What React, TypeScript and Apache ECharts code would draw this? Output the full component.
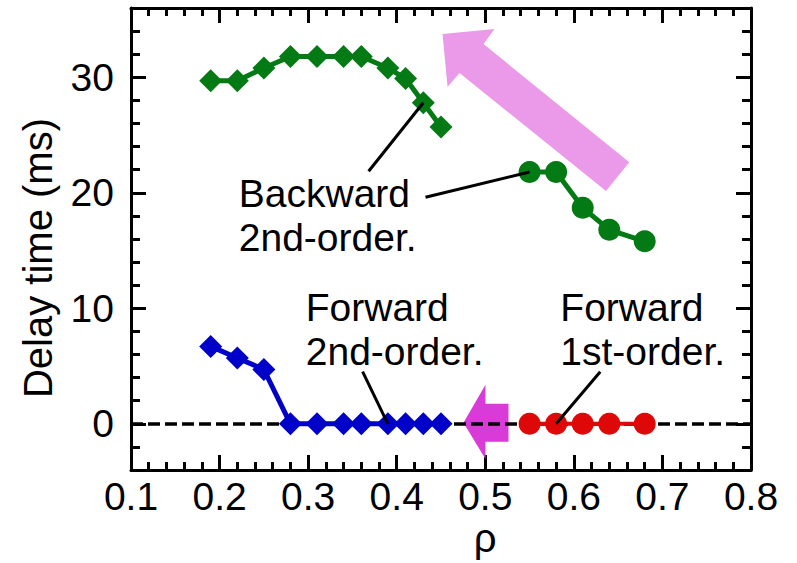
import React, { useEffect, useRef } from "react";
import * as echarts from "echarts";

// ρ values of the low-ρ sweep (diamonds) and the high-ρ sweep (circles)
const rhoLow = [0.19, 0.22, 0.25, 0.28, 0.31, 0.34, 0.36, 0.39, 0.41, 0.43, 0.45];
const rhoHigh = [0.55, 0.58, 0.61, 0.64, 0.68];

// Delay times (ms)
const backward2ndLow = [29.7, 29.7, 30.8, 31.8, 31.8, 31.8, 31.8, 30.8, 29.9, 27.8, 25.7];
const forward2ndLow = [6.7, 5.7, 4.7, 0, 0, 0, 0, 0, 0, 0, 0];
const backward2ndHigh = [21.8, 21.8, 18.7, 16.8, 15.8];
const forward1stHigh = [0, 0, 0, 0, 0];

// Axis ticks
const xMajorTicks = [0.1, 0.2, 0.3, 0.4, 0.5, 0.6, 0.7, 0.8];
const yMajorTicks = [0, 10, 20, 30];

// Arrow outlines in data coordinates (ρ, ms)
const backArrow = [
  [0.4517, 33.75], [0.5104, 34.19], [0.498, 32.88], [0.6626, 22.65],
  [0.6363, 20.16], [0.4709, 30.37], [0.4574, 29.15],
];
const forwardArrow = [
  [0.4754, 0.1], [0.5002, 3.38], [0.5002, 1.74], [0.5262, 1.74],
  [0.5262, -1.56], [0.5002, -1.56], [0.5002, -3.04],
];

// Annotation texts, their anchor (left edge, block middle) and leader start points
const labelTexts = ["Backward\n2nd-order.", "Forward\n2nd-order.", "Forward\n1st-order."];
const labelAnchors = [[0.2217, 18.05], [0.2973, 8.16], [0.5847, 8.16]];
const leaderStarts = [[0.3683, 21.87], [0.4325, 19.61], [0.3615, 4.51], [0.6298, 4.51]];

const FONT = '"Liberation Sans", Arial, Helvetica, sans-serif';
const GREEN = "#037A14";
const BLUE = "#0000C8";
const RED = "#DE0808";

function pairs(xs: number[], ys: number[]) {
  return xs.map((x, i) => [x, ys[i]]);
}

function arrowSeries(points: number[][], color: string, z: number) {
  return {
    type: "custom",
    xAxisIndex: 0,
    yAxisIndex: 0,
    z,
    silent: true,
    data: [points[0]],
    renderItem: (_params: any, api: any) => ({
      type: "polygon",
      shape: { points: points.map((p) => api.coord(p)) },
      style: { fill: color },
    }),
  };
}

export default function App() {
  const ref = useRef<HTMLDivElement>(null);

  useEffect(() => {
    if (!ref.current) return;
    const chart = echarts.init(ref.current, null, { renderer: "svg" });

    const leaders = [
      [...leaderStarts[0], rhoLow[9], backward2ndLow[9]],
      [...leaderStarts[1], rhoHigh[0], backward2ndHigh[0]],
      [...leaderStarts[2], rhoLow[7], forward2ndLow[7]],
      [...leaderStarts[3], rhoHigh[1], forward1stHigh[1]],
    ];

    const tickLine = { color: "#000", width: 3 };
    const frameLine = { show: true, onZero: false, lineStyle: { color: "#000", width: 3 } };
    const xBase = {
      type: "value",
      min: 0.1,
      max: 0.8,
      interval: 0.1,
      gridIndex: 0,
      splitLine: { show: false },
      axisLine: frameLine,
      axisTick: { show: true, inside: true, length: 15, lineStyle: tickLine },
      minorTick: { show: true, splitNumber: 5, length: 8, lineStyle: tickLine },
    };
    const yMajor = {
      type: "value",
      min: -4,
      max: 36,
      gridIndex: 0,
      splitLine: { show: false },
      axisLine: frameLine,
      axisTick: { show: true, inside: true, length: 15, lineStyle: tickLine, customValues: yMajorTicks },
    };
    const yMinor = {
      type: "value",
      min: -4,
      max: 36,
      interval: 2,
      gridIndex: 0,
      splitLine: { show: false },
      axisLine: { show: false, onZero: false },
      axisLabel: { show: false },
      axisTick: { show: true, inside: true, length: 9, lineStyle: tickLine },
    };

    chart.setOption({
      animation: false,
      backgroundColor: "#fff",
      grid: { left: 131, right: 46, top: 8, bottom: 93, containLabel: false },
      xAxis: [
        {
          ...xBase,
          position: "bottom",
          axisLabel: {
            show: true,
            color: "#000",
            fontSize: 39,
            fontFamily: FONT,
            margin: 7,
            customValues: xMajorTicks,
            formatter: (v: number) => v.toFixed(1),
          },
        },
        { ...xBase, position: "top", axisLabel: { show: false } },
      ],
      yAxis: [
        {
          ...yMajor,
          position: "left",
          axisLabel: {
            show: true,
            color: "#000",
            fontSize: 39,
            fontFamily: FONT,
            margin: 17,
            customValues: yMajorTicks,
          },
        },
        { ...yMinor, position: "left" },
        { ...yMajor, position: "right", axisLabel: { show: false } },
        { ...yMinor, position: "right" },
      ],
      series: [
        {
          // zero reference line
          type: "line",
          xAxisIndex: 0,
          yAxisIndex: 0,
          data: [],
          z: 1,
          markLine: {
            silent: true,
            symbol: "none",
            label: { show: false },
            lineStyle: { color: "#000", width: 3.5, type: [12, 5] },
            data: [{ yAxis: 0 }],
          },
        },
        arrowSeries(backArrow, "#EA9AE8", 2),
        arrowSeries(forwardArrow, "#D83BD8", 3),
        {
          type: "line",
          name: "Backward (low ρ)",
          z: 5,
          data: pairs(rhoLow, backward2ndLow),
          symbol: "diamond",
          symbolSize: 23,
          itemStyle: { color: GREEN },
          lineStyle: { color: GREEN, width: 5 },
        },
        {
          type: "line",
          name: "Forward 2nd-order",
          z: 5,
          data: pairs(rhoLow, forward2ndLow),
          symbol: "diamond",
          symbolSize: 23,
          itemStyle: { color: BLUE },
          lineStyle: { color: BLUE, width: 5 },
        },
        {
          type: "line",
          name: "Backward (high ρ)",
          z: 5,
          data: pairs(rhoHigh, backward2ndHigh),
          symbol: "circle",
          symbolSize: 22,
          itemStyle: { color: GREEN },
          lineStyle: { color: GREEN, width: 5 },
        },
        {
          type: "line",
          name: "Forward 1st-order",
          z: 5,
          data: pairs(rhoHigh, forward1stHigh),
          symbol: "circle",
          symbolSize: 22,
          itemStyle: { color: RED },
          lineStyle: { color: RED, width: 4 },
        },
        {
          // leader lines from labels to points
          type: "custom",
          z: 10,
          silent: true,
          data: leaders,
          encode: { x: [0, 2], y: [1, 3] },
          renderItem: (_params: any, api: any) => {
            const a = api.coord([api.value(0), api.value(1)]);
            const b = api.coord([api.value(2), api.value(3)]);
            return {
              type: "line",
              shape: { x1: a[0], y1: a[1], x2: b[0], y2: b[1] },
              style: { stroke: "#000", lineWidth: 3 },
            };
          },
        },
        {
          // annotation texts
          type: "custom",
          z: 10,
          silent: true,
          data: labelAnchors.map((p, i) => [p[0], p[1], i]),
          renderItem: (_params: any, api: any) => {
            const p = api.coord([api.value(0), api.value(1)]);
            return {
              type: "text",
              x: p[0],
              y: p[1],
              style: {
                text: labelTexts[api.value(2)],
                fill: "#000",
                fontSize: 39,
                fontFamily: FONT,
                lineHeight: 44,
                align: "left",
                verticalAlign: "middle",
              },
            };
          },
        },
      ],
      graphic: [
        {
          type: "text",
          x: 485,
          y: 538,
          style: {
            text: "ρ",
            fill: "#000",
            fontSize: 40,
            fontFamily: FONT,
            align: "center",
            verticalAlign: "middle",
          },
        },
        {
          type: "text",
          x: 38,
          y: 258,
          rotation: Math.PI / 2,
          style: {
            text: "Delay time (ms)",
            fill: "#000",
            fontSize: 40,
            fontFamily: FONT,
            align: "center",
            verticalAlign: "middle",
          },
        },
      ],
    });

    return () => chart.dispose();
  }, []);

  return (
    <div
      ref={ref}
      style={{ position: "fixed", left: 0, top: 0, width: 797, height: 563, background: "#fff" }}
    />
  );
}
